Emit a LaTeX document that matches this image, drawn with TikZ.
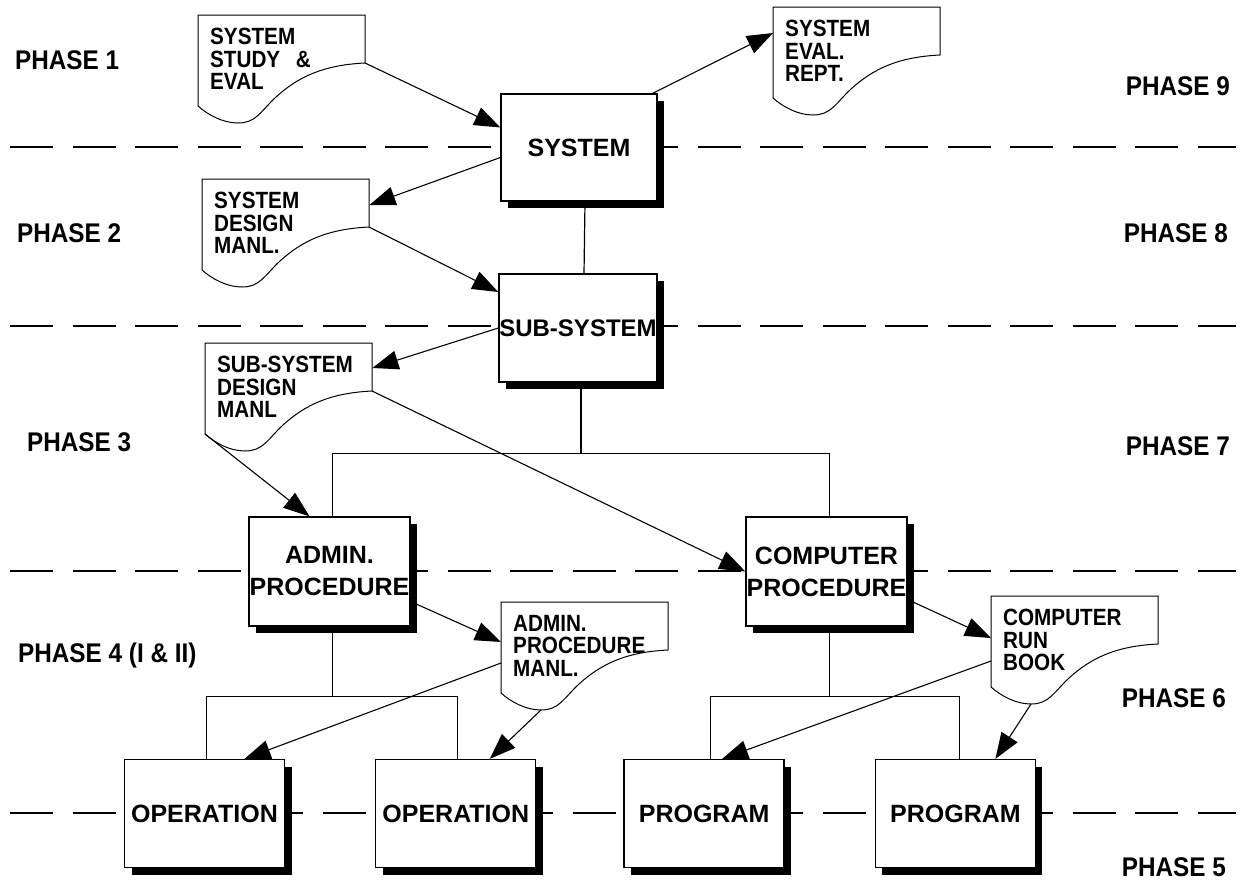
\documentclass[tikz,border=0pt]{standalone}
\usepackage{fontspec}
\setmainfont{Liberation Sans}
\newfontfamily\phasefont{Liberation Sans}[FakeStretch=0.9]
\newfontfamily\docfont{Liberation Sans}[FakeStretch=0.88]
\usetikzlibrary{arrows.meta, positioning, shadows}

% outline of a document sheet, hung on the text node of the same name
\newcommand\docoutline[1]{%
  \begin{scope}[shift={(#1.north west)}]
    \draw[docline] (0,0) -- (167,0) -- (167,48) coordinate (#1-r)
      .. controls (125,50) and (100,62) .. (78,82)
      .. controls (62,97) and (58,108) .. (40,108) coordinate (#1-t)
      .. controls (25,108) and (10,100) .. (0,91) coordinate (#1-l) -- cycle;
  \end{scope}}

\begin{document}
\begin{tikzpicture}[
    x=1pt, y=-1pt,
    node distance=90pt,
    stagebox/.style={rectangle, draw=black, fill=white, line width=1.3pt, minimum width=160pt, minimum height=108pt, inner sep=0pt, align=center, font=\bfseries\fontsize{25}{32}\selectfont, drop shadow={shadow xshift=7pt, shadow yshift=-7pt, fill=black, opacity=1}},
    docnode/.style={anchor=north west, inner xsep=12pt, inner ysep=13pt, text width=143pt, align=left, font=\docfont\bfseries\fontsize{23.5}{22.5}\selectfont},
    docline/.style={line width=1pt},
    phase/.style={font=\phasefont\bfseries\fontsize{27}{30}\selectfont, inner sep=0pt},
    arrow/.style={-{Triangle[length=26pt, width=19pt]}, line width=1.1pt},
    tree/.style={line width=1.2pt},
    phase_line/.style={dash pattern=on 43pt off 19.5pt, line width=1.3pt}
]
\useasboundingbox (0,0) rectangle (1241,881);

% Phase separators
\draw[phase_line] (10,147) -- (1236,147);
\draw[phase_line] (10,326) -- (1236,326);
\draw[phase_line] (10,571) -- (1236,571);
\draw[phase_line] (10,813) -- (1236,813);

% Phase labels
\node[phase, anchor=base west] (ph1) at (15,69) {PHASE 1};
\node[phase, anchor=base west] (ph2) at (17,242) {PHASE 2};
\node[phase, anchor=base west] (ph3) at (27,451) {PHASE 3};
\node[phase, anchor=base west] (ph4) at (18,662) {PHASE 4 (I \& II)};
\node[phase, anchor=base east] (ph9) at (1230,95) {PHASE 9};
\node[phase, anchor=base east] (ph8) at (1228,242) {PHASE 8};
\node[phase, anchor=base east] (ph7) at (1230,455) {PHASE 7};
\node[phase, anchor=base east] (ph6) at (1226,707) {PHASE 6};
\node[phase, anchor=base east] (ph5) at (1226,876) {PHASE 5};

% Hierarchy boxes
\node[stagebox, minimum width=156pt, minimum height=107pt] (sys) at (579,147.5) {SYSTEM};
\node[stagebox, minimum width=158pt, font=\bfseries\fontsize{24}{30}\selectfont] (sub) at (578,328) {SUB-SYSTEM};
\node[stagebox, minimum width=161pt, minimum height=109pt] (adm) at (329.5,571.5) {ADMIN.\\PROCEDURE};
\node[stagebox, minimum width=161pt, minimum height=109pt] (cmp) at (826.5,571.5) {COMPUTER\\PROCEDURE};
\node[stagebox] (op1) at (204.5,813.5) {OPERATION};
\node[stagebox, right=of op1] (op2) {OPERATION};
\node[stagebox, right=87pt of op2] (pg1) {PROGRAM};
\node[stagebox, right=of pg1] (pg2) {PROGRAM};

% Documents
\node[docnode] (dstudy) at (198,15) {SYSTEM\\STUDY \ \&\\EVAL};
\node[docnode] (drept) at (773,7) {SYSTEM\\EVAL.\\REPT.};
\node[docnode] (ddesign) at (202,179) {SYSTEM\\DESIGN\\MANL.};
\node[docnode] (dsub) at (205,343) {SUB-SYSTEM\\DESIGN\\MANL};
\node[docnode] (dadm) at (501,602) {ADMIN.\\PROCEDURE\\MANL.};
\node[docnode] (dbook) at (991,596) {COMPUTER\\RUN\\BOOK};
\docoutline{dstudy}
\docoutline{drept}
\docoutline{ddesign}
\docoutline{dsub}
\docoutline{dadm}
\docoutline{dbook}

% Tree
\draw[tree] ([xshift=6pt]sys.south) -- ([xshift=6pt]sub.north);
\draw[tree] ([xshift=3pt]sub.south) -- ++(0,71) coordinate (subfork) -| ([xshift=3pt]adm.north);
\draw[tree] (subfork) -| ([xshift=3pt]cmp.north);
\draw[tree] ([xshift=3pt]adm.south) -- ++(0,70) coordinate (admfork) -| ([xshift=2pt]op1.north);
\draw[tree] (admfork) -| ([xshift=2pt]op2.north);
\draw[tree] ([xshift=3pt]cmp.south) -- ++(0,70) coordinate (cmpfork) -| ([xshift=6pt]pg1.north);
\draw[tree] (cmpfork) -| ([xshift=4pt]pg2.north);

% Document flow
\draw[arrow] (dstudy-r) -- ([yshift=20pt]sys.west);
\draw[arrow] ([xshift=-5pt]sys.north east) -- ([yshift=-26pt]drept.north west);
\draw[arrow] ([yshift=-10pt]sys.west) -- ([yshift=-26pt]ddesign.north east);
\draw[arrow] (ddesign-r) -- ([yshift=36pt]sub.west);
\draw[arrow] (sub.west) -- ([yshift=-25pt]dsub.north east);
\draw[arrow] (dsub-r) -- (cmp.west);
\draw[arrow] (dsub-l) -- ([xshift=-20pt]adm.north);
\draw[arrow] ([yshift=-30pt]adm.east) -- ([yshift=-40pt]dadm.north west);
\draw[arrow] ([yshift=-61pt]dadm.north west) -- ([xshift=40pt]op1.north);
\draw[arrow] (dadm-t) -- ([xshift=34pt]op2.north);
\draw[arrow] ([yshift=-28pt]cmp.east) -- ([yshift=-42pt]dbook.north west);
\draw[arrow] ([yshift=-65pt]dbook.north west) -- ([xshift=18pt]pg1.north);
\draw[arrow] (dbook-t) -- ([xshift=40pt]pg2.north);

\end{tikzpicture}
\end{document}
